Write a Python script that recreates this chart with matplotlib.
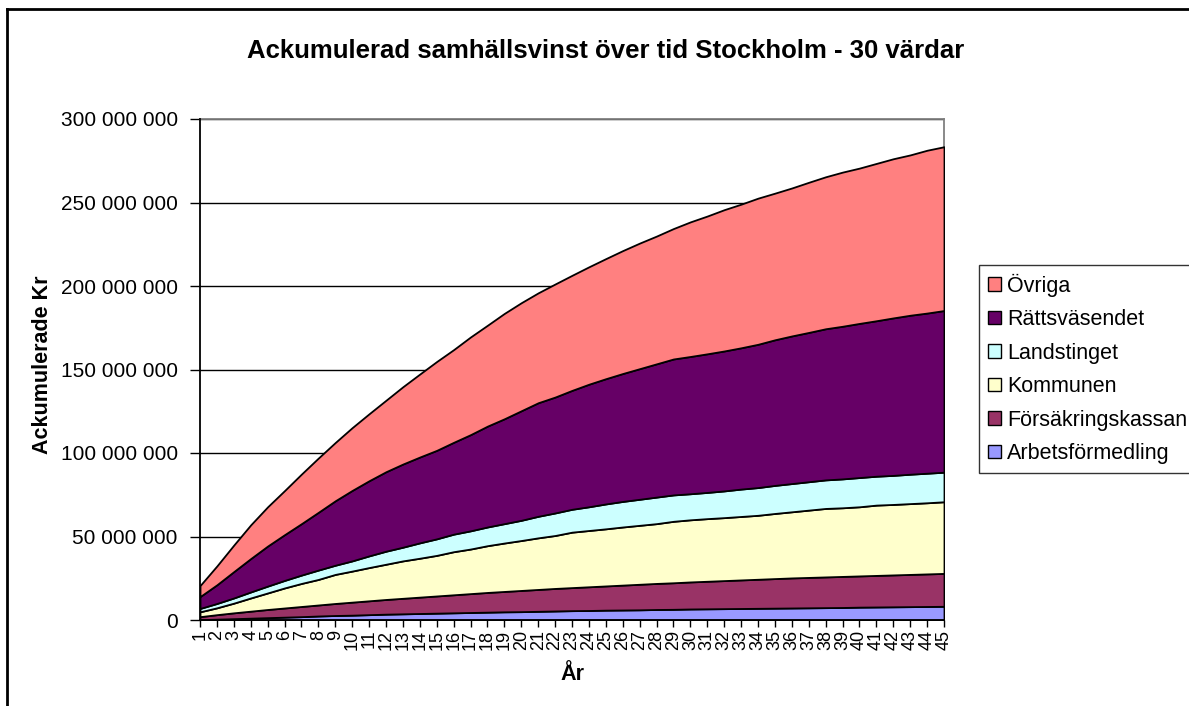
import matplotlib
matplotlib.use('Agg')
import matplotlib.pyplot as plt
from matplotlib.lines import Line2D
from matplotlib.ticker import FuncFormatter, MultipleLocator
from matplotlib.patches import Patch

plt.rcParams['font.family'] = ['Liberation Sans', 'DejaVu Sans']

# Ackumulerade belopp per aktör, miljoner kr
years = list(range(1, 46))
arbetsformedling = [0.2, 0.5, 0.8, 1.1, 1.4, 1.7, 2.0, 2.4, 2.7, 2.9,
                    3.2, 3.5, 3.7, 3.9, 4.1, 4.3, 4.5, 4.7, 4.9, 5.0,
                    5.2, 5.4, 5.6, 5.7, 5.9, 6.0, 6.1, 6.3, 6.4, 6.6,
                    6.7, 6.8, 6.9, 7.0, 7.1, 7.2, 7.3, 7.4, 7.5, 7.7,
                    7.8, 7.9, 8.0, 8.1, 8.2]
forsakringskassan = [1.8, 2.7, 3.5, 4.2, 4.9, 5.5, 6.1, 6.6, 7.2, 7.8,
                     8.3, 8.8, 9.3, 9.8, 10.3, 10.8, 11.3, 11.8, 12.2, 12.7,
                     13.1, 13.5, 13.8, 14.2, 14.5, 14.9, 15.3, 15.6, 15.9, 16.2,
                     16.5, 16.8, 17.1, 17.4, 17.7, 18.0, 18.2, 18.4, 18.6, 18.7,
                     18.9, 19.1, 19.3, 19.5, 19.7]
kommunen = [2.9, 4.1, 5.8, 7.9, 9.9, 12.0, 13.8, 15.3, 17.4, 18.6,
            19.9, 21.1, 22.4, 23.3, 24.3, 25.8, 26.7, 28.0, 29.0, 29.9,
            30.9, 31.7, 33.2, 33.7, 34.2, 34.8, 35.3, 35.8, 36.8, 37.2,
            37.5, 37.7, 38.0, 38.3, 39.0, 39.6, 40.3, 41.0, 41.1, 41.4,
            42.1, 42.2, 42.4, 42.6, 42.9]
landstinget = [2.0, 2.6, 3.1, 3.6, 4.1, 4.5, 5.0, 5.6, 5.5, 6.1,
               7.0, 7.8, 8.2, 9.2, 9.9, 10.5, 10.9, 11.2, 11.6, 12.1,
               12.9, 13.5, 13.7, 14.2, 14.9, 15.3, 15.6, 15.9, 15.8, 15.6,
               15.7, 16.0, 16.4, 16.6, 16.8, 16.9, 17.0, 17.1, 17.3, 17.5,
               17.3, 17.4, 17.6, 17.7, 17.7]
rattsvasendet = [7.1, 11.2, 15.8, 20.0, 24.0, 27.4, 30.8, 34.6, 38.6, 42.2,
                 45.0, 47.6, 49.8, 51.4, 53.0, 55.0, 57.6, 60.4, 62.8, 65.6,
                 68.0, 69.4, 71.2, 73.4, 75.0, 76.6, 78.2, 79.8, 81.4, 82.2,
                 83.0, 83.8, 84.6, 85.8, 87.2, 88.4, 89.4, 90.5, 91.4, 92.3,
                 93.1, 94.3, 95.2, 95.9, 96.8]
ovriga = [6.6, 11.3, 15.9, 20.2, 23.5, 26.4, 29.7, 32.5, 34.9, 37.6,
          40.1, 42.8, 46.3, 49.7, 53.2, 55.5, 58.5, 60.4, 63.1, 64.7,
          65.8, 67.7, 68.9, 70.3, 71.9, 73.6, 75.2, 76.5, 78.1, 80.6,
          82.5, 84.6, 86.0, 87.5, 87.8, 88.6, 89.9, 91.0, 92.3, 93.0,
          94.2, 95.3, 96.0, 97.5, 98.1]

labels = ['Arbetsförmedling', 'Försäkringskassan', 'Kommunen',
          'Landstinget', 'Rättsväsendet', 'Övriga']
colors = ['#9999FF', '#993366', '#FFFFCC', '#CCFFFF', '#660066', '#FF8080']

series = [arbetsformedling, forsakringskassan, kommunen,
          landstinget, rattsvasendet, ovriga]
series = [[v * 1e6 for v in s] for s in series]

fig = plt.figure(figsize=(11.89, 7.06), dpi=100)
ax = fig.add_axes([200 / 1189, 1 - 620 / 706, 744 / 1189, 501 / 706])

ax.stackplot(years, *series, colors=colors, edgecolor='black', linewidth=1.3, zorder=3)

ax.set_xlim(1, 45)
ax.set_ylim(0, 300e6)
ax.yaxis.set_major_locator(MultipleLocator(50e6))
ax.yaxis.set_major_formatter(FuncFormatter(lambda v, p: f'{int(v):,}'.replace(',', ' ')))
ax.set_xticks(years)
ax.set_xticklabels([str(y) for y in years], rotation=90, fontsize=13)
ax.tick_params(axis='y', labelsize=15, length=7, width=1, direction='out', pad=9)
ax.tick_params(axis='x', length=5, width=1, direction='out', pad=2)

ax.grid(axis='y', color='black', linewidth=1, zorder=1)
ax.set_axisbelow(True)
for side in ['left', 'bottom']:
    ax.spines[side].set_color('black')
    ax.spines[side].set_linewidth(1.3)
    ax.spines[side].set_zorder(5)
for side in ['top', 'right']:
    ax.spines[side].set_color('#808080')
    ax.spines[side].set_linewidth(1.3)

fig.text(0.509, 1 - 51 / 706, 'Ackumulerad samhällsvinst över tid Stockholm - 30 värdar',
         ha='center', va='center', fontsize=18.5, fontweight='bold')
fig.text(43 / 1189, 1 - 365 / 706, 'Ackumulerade Kr', rotation=90,
         ha='center', va='center', fontsize=15.5, fontweight='bold')
fig.text(572 / 1189, 1 - 675 / 706, 'År', ha='center', va='center',
         fontsize=15.5, fontweight='bold')

# Legend, reversed order as in the original
handles = [Patch(facecolor=c, edgecolor='black', linewidth=1) for c in colors][::-1]
leg = fig.legend(handles, labels[::-1], loc='upper left',
                 bbox_to_anchor=(979 / 1189, 1 - 265 / 706),
                 fontsize=15.5, frameon=True, fancybox=False, edgecolor='black',
                 handlelength=0.6, handleheight=0.6, handletextpad=0.3,
                 labelspacing=0.58, borderpad=0.4, borderaxespad=0)
leg.get_frame().set_linewidth(1)

# Outer chart frame (left and top edges visible)
fig.add_artist(Line2D([7 / 1189, 7 / 1189], [0, 1 - 9 / 706], color='black', lw=2))
fig.add_artist(Line2D([7 / 1189, 1], [1 - 9 / 706, 1 - 9 / 706], color='black', lw=2))

plt.savefig('out.png', dpi=100)
